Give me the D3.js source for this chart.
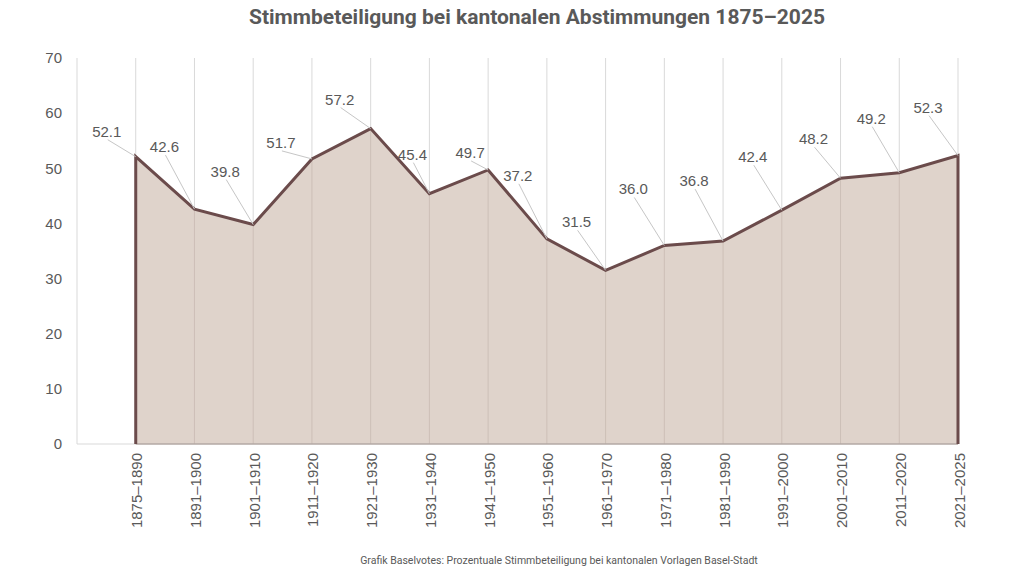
<!DOCTYPE html>
<html>
<head>
<meta charset="utf-8">
<script src="https://cdn.jsdelivr.net/npm/d3@7"></script>
<style>
  body { margin: 0; background: #fff; }
  svg { display: block; }
</style>
</head>
<body>
<svg id="chart" width="1024" height="568"></svg>
<script>
const periods = ["1875–1890", "1891–1900", "1901–1910", "1911–1920", "1921–1930",
  "1931–1940", "1941–1950", "1951–1960", "1961–1970", "1971–1980", "1981–1990",
  "1991–2000", "2001–2010", "2011–2020", "2021–2025"];
const turnout = [52.1, 42.6, 39.8, 51.7, 57.2, 45.4, 49.7, 37.2, 31.5, 36.0, 36.8,
  42.4, 48.2, 49.2, 52.3];
const yTicks = [0, 10, 20, 30, 40, 50, 60, 70];

// label offsets from each point (layout only)
const labelOffsets = [[-29, -25], [-30, -62], [-28, -53], [-31, -16], [-31, -29],
  [-17, -39], [-18, -17], [-29, -63], [-29, -48], [-31, -56], [-29, -60],
  [-29, -53], [-27, -39], [-28, -54], [-30, -48]];

const plotLeft = 77, plotRight = 958, plotTop = 58, plotBottom = 444;
const svg = d3.select("#chart");

const x = d3.scaleLinear().domain([-1, periods.length - 1]).range([plotLeft, plotRight]);
const y = d3.scaleLinear().domain([0, 70]).range([plotBottom, plotTop]);

const data = turnout.map((v, i) => ({ i, v, p: periods[i] }));

// title
svg.append("text")
  .attr("x", 537).attr("y", 24)
  .attr("text-anchor", "middle")
  .style("font-family", "Roboto, sans-serif")
  .style("font-weight", "bold")
  .style("font-size", "21px")
  .attr("fill", "#595959")
  .text("Stimmbeteiligung bei kantonalen Abstimmungen 1875–2025");

// vertical grid
const gridX = [-1].concat(d3.range(periods.length));
svg.append("g").selectAll("line").data(gridX).enter().append("line")
  .attr("x1", d => x(d)).attr("x2", d => x(d))
  .attr("y1", plotTop).attr("y2", plotBottom)
  .attr("stroke", "#d9d9d9").attr("stroke-width", 1);

// area
const area = d3.area().x(d => x(d.i)).y0(y(0)).y1(d => y(d.v));
svg.append("path").datum(data)
  .attr("d", area)
  .attr("fill", "#dfd3cb");

// grid again over the fill, faint
svg.append("g").selectAll("line").data(d3.range(1, periods.length - 1)).enter().append("line")
  .attr("x1", d => x(d)).attr("x2", d => x(d))
  .attr("y1", d => y(turnout[d])).attr("y2", plotBottom)
  .attr("stroke", "#cdbfb7").attr("stroke-width", 1);

// x axis baseline
svg.append("line")
  .attr("x1", plotLeft).attr("x2", plotRight)
  .attr("y1", plotBottom).attr("y2", plotBottom)
  .attr("stroke", "#d9d9d9").attr("stroke-width", 1);
svg.append("line")
  .attr("x1", x(0)).attr("x2", plotRight)
  .attr("y1", plotBottom).attr("y2", plotBottom)
  .attr("stroke", "#a08f8a").attr("stroke-width", 1.2);

// outline: left drop, line, right drop
const outline = [{ i: 0, v: 0 }].concat(data, [{ i: periods.length - 1, v: 0 }]);
svg.append("path").datum(outline)
  .attr("d", d3.line().x(d => x(d.i)).y(d => y(d.v)))
  .attr("fill", "none")
  .attr("stroke", "#6b4b4b")
  .attr("stroke-width", 3)
  .attr("stroke-linejoin", "miter");

// y axis labels
const yAxis = svg.append("g")
  .attr("transform", `translate(${plotLeft - 15},0)`)
  .call(d3.axisLeft(y).tickValues(yTicks).tickSize(0).tickPadding(0));
yAxis.select(".domain").remove();
yAxis.selectAll("text")
  .style("font-family", "'Liberation Sans', Arial, sans-serif")
  .style("font-size", "15px")
  .attr("fill", "#595959");

// x axis labels (rotated)
const xAxis = svg.append("g")
  .attr("transform", `translate(0,${plotBottom})`)
  .call(d3.axisBottom(x).tickValues(d3.range(periods.length))
    .tickFormat(i => periods[i]).tickSize(0).tickPadding(0));
xAxis.select(".domain").remove();
xAxis.selectAll("text")
  .style("font-family", "'Liberation Sans', Arial, sans-serif")
  .style("font-size", "15px")
  .attr("fill", "#595959")
  .attr("text-anchor", "end")
  .attr("transform", "translate(6,9) rotate(-90)")
  .attr("dy", "0")
  .attr("y", 0);

// data labels with leader lines
const labels = svg.append("g");
data.forEach((d, k) => {
  const px = x(d.i), py = y(d.v);
  const lx = px + labelOffsets[k][0], ly = py + labelOffsets[k][1];
  labels.append("line")
    .attr("x1", lx + 1).attr("y1", ly + 8)
    .attr("x2", px).attr("y2", py)
    .attr("stroke", "#c6c6c6").attr("stroke-width", 1);
  labels.append("text")
    .attr("x", lx).attr("y", ly + 5)
    .attr("text-anchor", "middle")
    .style("font-family", "'Liberation Sans', Arial, sans-serif")
    .style("font-size", "15px")
    .attr("fill", "#595959")
    .text(d3.format(".1f")(d.v));
});

// footer
svg.append("text")
  .attr("x", 559).attr("y", 564)
  .attr("text-anchor", "middle")
  .style("font-family", "Roboto, sans-serif")
  .style("font-size", "10.5px")
  .attr("fill", "#595959")
  .text("Grafik Baselvotes: Prozentuale Stimmbeteiligung bei kantonalen Vorlagen Basel-Stadt");
</script>
</body>
</html>
